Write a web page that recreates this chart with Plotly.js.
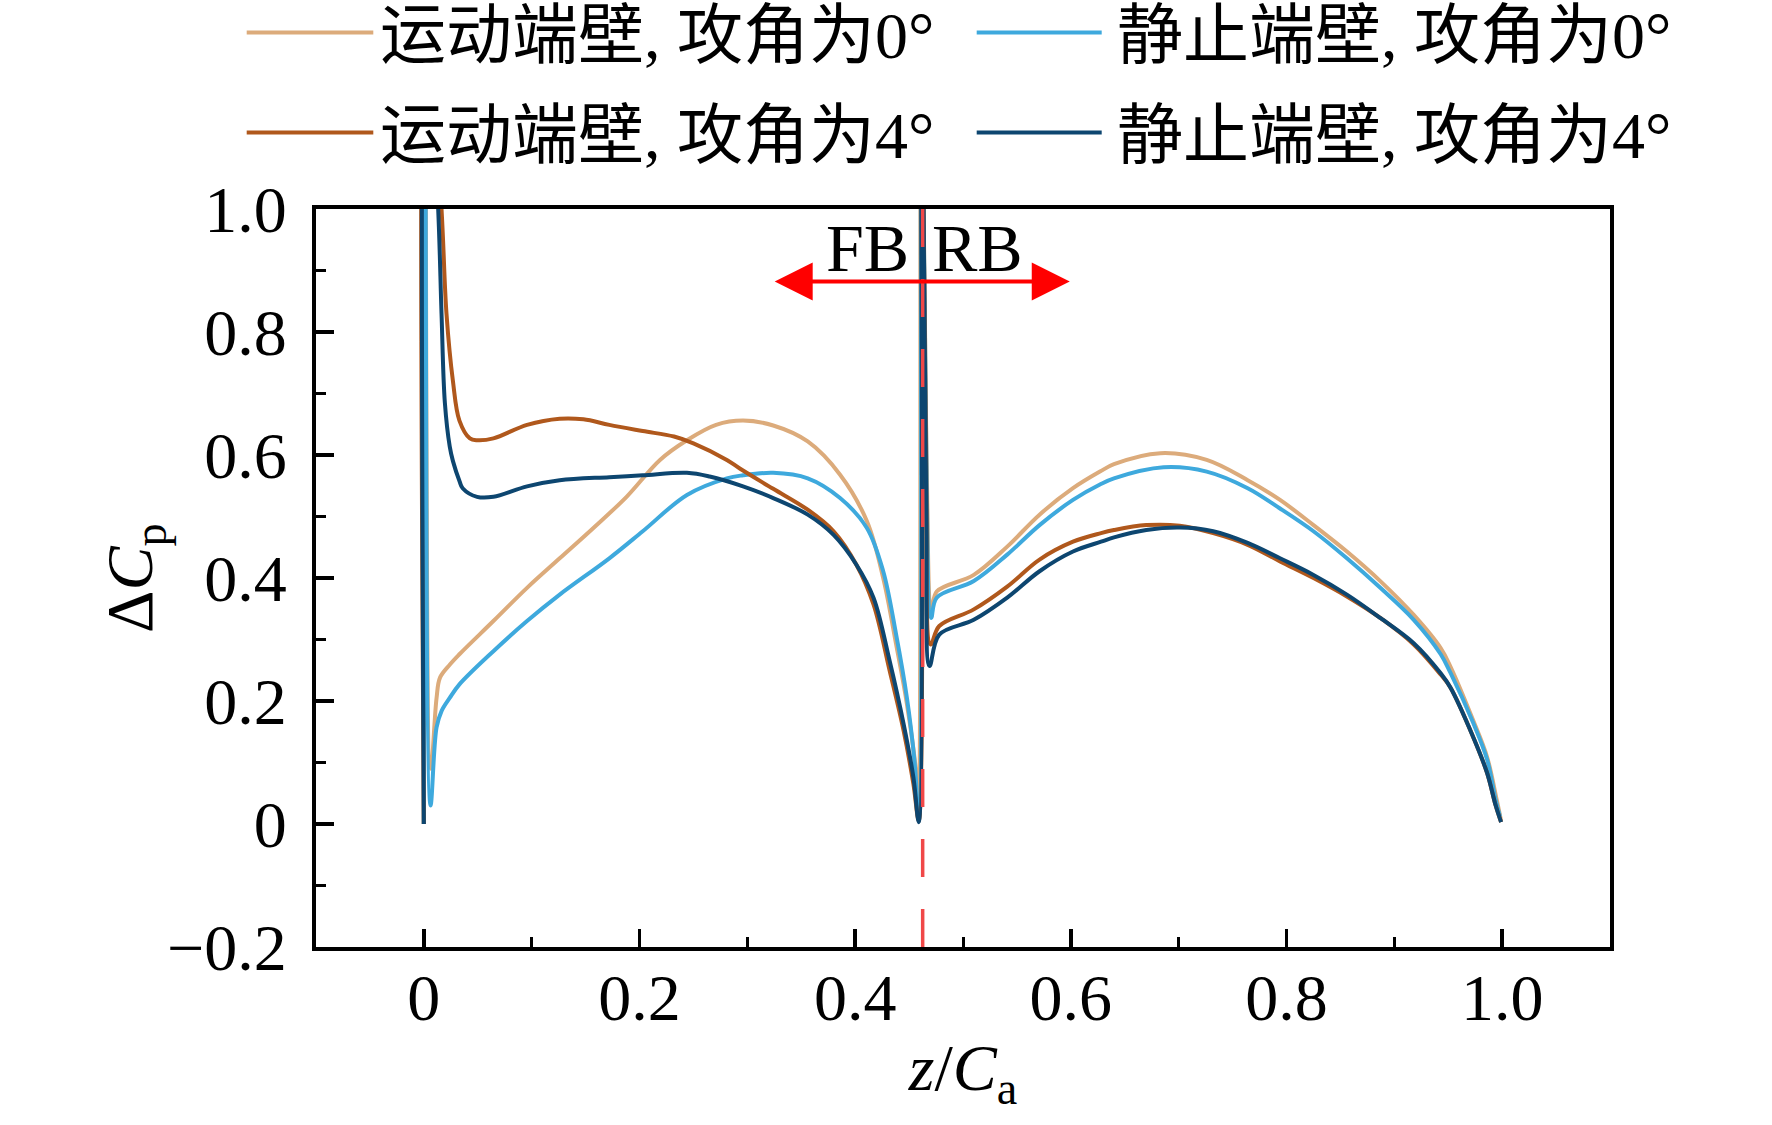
<!DOCTYPE html>
<html>
<head>
<meta charset="utf-8">
<script src="https://cdn.plot.ly/plotly-3.0.1.min.js"></script>
<style>
  html, body { margin: 0; padding: 0; background: #fff; }
  #chart { width: 1772px; height: 1125px; }
</style>
</head>
<body>
<div id="chart"></div>
<script>
// z/Ca along the blade, dCp per case
var names = ['运动端壁, 攻角为0°', '静止端壁, 攻角为0°', '运动端壁, 攻角为4°', '静止端壁, 攻角为4°'];
var colors = ['#dcab7b', '#3ea9dd', '#b0581c', '#0d4670'];

var xMoving0 = [0, 0.001, 0.0065, 0.0118, 0.015, 0.024, 0.033, 0.0645, 0.0957, 0.126, 0.157, 0.188, 0.219, 0.244, 0.271, 0.296, 0.324, 0.356, 0.386, 0.411, 0.426, 0.438, 0.448, 0.457, 0.459, 0.4612, 0.466, 0.471, 0.4756, 0.510, 0.541, 0.571, 0.602, 0.627, 0.640, 0.683, 0.726, 0.764, 0.794, 0.825, 0.856, 0.887, 0.918, 0.943, 0.952, 0.973, 0.986, 0.995, 0.999];
var yMoving0 = [0, 1.4, 0.09, 0.205, 0.238, 0.259, 0.276, 0.330, 0.384, 0.432, 0.481, 0.532, 0.592, 0.624, 0.649, 0.656, 0.648, 0.622, 0.568, 0.492, 0.400, 0.292, 0.195, 0.076, 0.005, 1.4, 0.62, 0.351, 0.378, 0.405, 0.451, 0.503, 0.546, 0.573, 0.585, 0.603, 0.592, 0.559, 0.527, 0.486, 0.443, 0.395, 0.340, 0.286, 0.256, 0.169, 0.109, 0.039, 0.005];

var xStatic0 = [0, 0.001, 0.0062, 0.0118, 0.0165, 0.024, 0.033, 0.0645, 0.0957, 0.126, 0.172, 0.203, 0.244, 0.281, 0.296, 0.324, 0.356, 0.386, 0.411, 0.426, 0.438, 0.448, 0.455, 0.459, 0.4612, 0.466, 0.4705, 0.4756, 0.510, 0.541, 0.571, 0.602, 0.627, 0.640, 0.686, 0.726, 0.764, 0.794, 0.825, 0.856, 0.887, 0.918, 0.943, 0.952, 0.973, 0.986, 0.994, 0.998];
var yStatic0 = [0, 1.4, 0.03, 0.157, 0.184, 0.205, 0.227, 0.281, 0.330, 0.373, 0.432, 0.476, 0.535, 0.562, 0.567, 0.571, 0.562, 0.530, 0.481, 0.411, 0.308, 0.205, 0.103, 0.011, 1.4, 0.6, 0.335, 0.368, 0.395, 0.438, 0.486, 0.527, 0.552, 0.562, 0.580, 0.573, 0.546, 0.513, 0.476, 0.432, 0.384, 0.332, 0.276, 0.246, 0.165, 0.105, 0.039, 0.012];

var xMoving4 = [0, 0.001, 0.0164, 0.021, 0.027, 0.033, 0.0427, 0.0494, 0.0645, 0.0957, 0.126, 0.148, 0.172, 0.203, 0.232, 0.250, 0.281, 0.293, 0.324, 0.356, 0.380, 0.401, 0.417, 0.432, 0.445, 0.454, 0.459, 0.4612, 0.466, 0.470, 0.478, 0.510, 0.541, 0.571, 0.602, 0.628, 0.640, 0.670, 0.701, 0.732, 0.764, 0.794, 0.825, 0.856, 0.887, 0.918, 0.943, 0.952, 0.973, 0.986, 0.994, 0.999];
var yMoving4 = [0, 1.4, 1.0, 0.83, 0.72, 0.656, 0.627, 0.624, 0.627, 0.649, 0.659, 0.658, 0.649, 0.639, 0.630, 0.619, 0.592, 0.578, 0.545, 0.511, 0.476, 0.422, 0.357, 0.249, 0.151, 0.065, 0.005, 1.4, 0.55, 0.292, 0.322, 0.349, 0.386, 0.430, 0.459, 0.473, 0.478, 0.486, 0.485, 0.473, 0.454, 0.427, 0.400, 0.370, 0.335, 0.292, 0.243, 0.222, 0.142, 0.083, 0.030, 0.003];

var xStatic4 = [0, 0.001, 0.0133, 0.0164, 0.0195, 0.024, 0.027, 0.0332, 0.036, 0.0494, 0.0645, 0.0957, 0.126, 0.172, 0.203, 0.244, 0.265, 0.296, 0.324, 0.356, 0.380, 0.401, 0.417, 0.432, 0.445, 0.454, 0.459, 0.4612, 0.466, 0.469, 0.478, 0.510, 0.541, 0.571, 0.602, 0.628, 0.640, 0.670, 0.701, 0.732, 0.764, 0.794, 0.825, 0.856, 0.887, 0.918, 0.943, 0.952, 0.973, 0.986, 0.994, 0.999];
var yStatic4 = [0, 1.4, 1.0, 0.83, 0.685, 0.614, 0.59, 0.557, 0.546, 0.532, 0.532, 0.549, 0.559, 0.564, 0.567, 0.571, 0.565, 0.549, 0.530, 0.503, 0.470, 0.422, 0.368, 0.265, 0.162, 0.076, 0.003, 1.4, 0.5, 0.257, 0.308, 0.332, 0.368, 0.411, 0.443, 0.459, 0.466, 0.478, 0.482, 0.476, 0.457, 0.432, 0.405, 0.373, 0.335, 0.294, 0.245, 0.222, 0.142, 0.083, 0.030, 0.003];

var xTickVals = [0, 0.2, 0.4, 0.6, 0.8, 1.0];
var xTickText = ['0', '0.2', '0.4', '0.6', '0.8', '1.0'];
var yTickVals = [-0.2, 0, 0.2, 0.4, 0.6, 0.8, 1.0];
var yTickText = ['\u22120.2', '0', '0.2', '0.4', '0.6', '0.8', '1.0'];

var splitX = 0.4626;          // FB / RB boundary
var arrowY = 0.882;
var arrowLeft = 0.324, arrowRight = 0.599;

var xs = [xMoving0, xStatic0, xMoving4, xStatic4];
var ys = [yMoving0, yStatic0, yMoving4, yStatic4];

var FONT = '"Liberation Serif", "Times New Roman", "Noto Sans CJK SC", serif';
var W = 1772, H = 1125;
var M = {l: 316, r: 162, t: 209, b: 178};

function px(X) { return (X - M.l) / (W - M.l - M.r); }
function py(Y) { return (H - M.b - Y) / (H - M.t - M.b); }

var traces = xs.map(function (x, i) {
    return {
        x: x,
        y: ys[i],
        mode: 'lines',
        name: names[i],
        line: {color: colors[i], width: 4, shape: 'spline', smoothing: 1},
        hoverinfo: 'skip'
    };
});

// hand-built legend: 2 x 2, long line samples
var legendShapes = [];
var legendNotes = [];
var legX = [[246.7, 373.3, 378], [976.7, 1101.7, 1115]];
var legY = [32.5, 132.5];
names.forEach(function (n, i) {
    var col = i % 2, row = Math.floor(i / 2);
    var L = legX[col];
    legendShapes.push({
        type: 'line', xref: 'paper', yref: 'paper',
        x0: px(L[0]), x1: px(L[1]), y0: py(legY[row]), y1: py(legY[row]),
        line: {color: colors[i], width: 4}
    });
    legendNotes.push({
        xref: 'paper', yref: 'paper', x: px(L[2]), y: py(legY[row] + 3),
        xanchor: 'left', yanchor: 'middle', showarrow: false,
        text: n, font: {family: FONT, size: 66, color: '#000'}
    });
});

var layout = {
    width: W,
    height: H,
    margin: M,
    paper_bgcolor: '#fff',
    plot_bgcolor: '#fff',
    showlegend: false,
    font: {family: FONT, size: 66, color: '#000'},
    xaxis: {
        range: [-0.1, 1.1],
        tickmode: 'array',
        tickvals: xTickVals,
        ticktext: xTickText,
        ticks: 'inside',
        ticklen: 18,
        tickwidth: 3.5,
        tickcolor: '#000',
        ticklabelstandoff: -10,
        minor: {dtick: 0.1, tick0: 0, ticks: 'inside', ticklen: 10, tickwidth: 3, tickcolor: '#000'},
        showline: true,
        mirror: true,
        linecolor: '#000',
        linewidth: 4,
        showgrid: false,
        zeroline: false,
        tickfont: {family: FONT, size: 66},
        title: {text: '<i>z</i>/<i>C</i><sub>a</sub>', font: {family: FONT, size: 66}, standoff: 12}
    },
    yaxis: {
        range: [-0.2, 1.0],
        tickmode: 'array',
        tickvals: yTickVals,
        ticktext: yTickText,
        ticks: 'inside',
        ticklen: 18,
        tickwidth: 3.5,
        tickcolor: '#000',
        ticklabelstandoff: 12,
        minor: {dtick: 0.1, tick0: 0, ticks: 'inside', ticklen: 10, tickwidth: 3, tickcolor: '#000'},
        showline: true,
        mirror: true,
        linecolor: '#000',
        linewidth: 4,
        showgrid: false,
        zeroline: false,
        tickfont: {family: FONT, size: 66}
    },
    shapes: [{
        type: 'line', xref: 'x', yref: 'paper',
        x0: splitX, x1: splitX, y0: 0, y1: 1,
        layer: 'above',
        line: {color: '#f04848', width: 3.5, dash: '38px,32px'}
    }].concat(legendShapes),
    annotations: [{
        // y-axis title, placed by hand so it sits where the original has it
        xref: 'paper', yref: 'paper', x: px(134), y: 0.5,
        xanchor: 'center', yanchor: 'middle', textangle: -90, showarrow: false,
        text: '\u0394<i>C</i><sub>p</sub>', font: {family: FONT, size: 66, color: '#000'}
    }, {
        xref: 'x', yref: 'y', axref: 'x', ayref: 'y',
        x: arrowRight, y: arrowY, ax: arrowLeft, ay: arrowY,
        text: '', showarrow: true,
        arrowside: 'end+start',
        arrowhead: 2, startarrowhead: 2,
        arrowsize: 1.9, startarrowsize: 1.9,
        arrowwidth: 4, arrowcolor: '#ff0000',
        standoff: 0, startstandoff: 0
    }, {
        xref: 'x', yref: 'y', x: 0.411, y: 0.936, showarrow: false,
        text: 'FB', font: {family: FONT, size: 68, color: '#000'}
    }, {
        xref: 'x', yref: 'y', x: 0.513, y: 0.936, showarrow: false,
        text: 'RB', font: {family: FONT, size: 68, color: '#000'}
    }].concat(legendNotes)
};

Plotly.newPlot('chart', traces, layout, {staticPlot: true});
</script>
</body>
</html>
